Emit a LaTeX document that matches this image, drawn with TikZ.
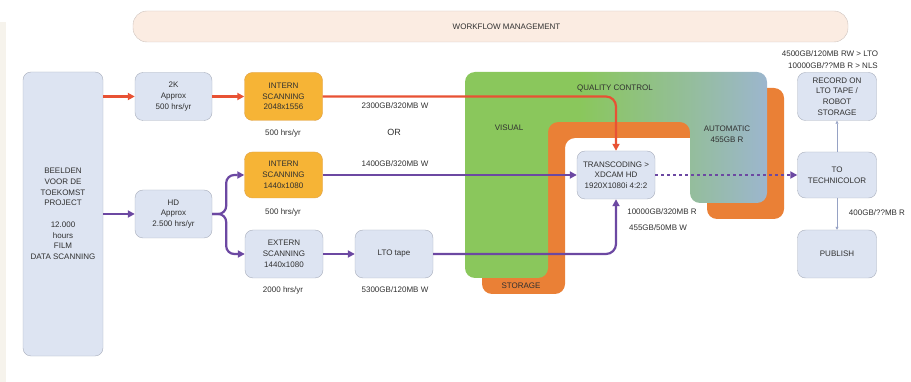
\documentclass[tikz,border=0pt]{standalone}
\usepackage{fontspec}
\setmainfont{Liberation Sans}
\usepackage{xcolor}
\usetikzlibrary{arrows.meta, positioning}
\definecolor{BoxBlue}{RGB}{221,228,242}
\definecolor{BoxEdge}{RGB}{168,174,188}
\definecolor{ScanOrange}{RGB}{246,180,54}
\definecolor{ScanEdge}{RGB}{222,160,70}
\definecolor{RedLine}{RGB}{232,82,52}
\definecolor{PurpleLine}{RGB}{108,72,162}
\definecolor{ThinLine}{RGB}{150,162,196}
\definecolor{QCGreen}{RGB}{138,199,92}
\definecolor{QCBlue}{RGB}{156,182,206}
\definecolor{StOrange}{RGB}{234,128,54}
\definecolor{BarFill}{RGB}{251,236,226}
\definecolor{BarEdge}{RGB}{205,195,190}
\definecolor{Beige}{RGB}{246,243,236}
\definecolor{TextGray}{RGB}{48,48,48}
\pgfdeclarehorizontalshading{qcshade}{100bp}{color(0bp)=(QCGreen); color(44bp)=(QCGreen);
  color(62bp)=(QCGreen!45!QCBlue); color(75bp)=(QCBlue); color(100bp)=(QCBlue)}
\newcommand\txt{\fontsize{8}{10.75}\selectfont}

\begin{document}
\begin{tikzpicture}[x=1pt, y=-1pt,
  box/.style={draw=BoxEdge, fill=BoxBlue, rounded corners=8pt, align=center,
              inner sep=0pt, font=\txt, text=TextGray},
  scan/.style={box, draw=ScanEdge, fill=ScanOrange},
  lbl/.style={font=\txt, text=TextGray, inner sep=0pt},
  qcarea/.style={insert path={(465,278) -- (465,72) -- (767,72) -- (767,203)
              -- (690,203) -- (690,122) -- (548,122) -- (548,278) -- cycle}},
  redarr/.style={-{Triangle[length=7pt,width=7pt]}, RedLine, line width=2.2pt},
  purarr/.style={-{Triangle[length=7pt,width=7pt]}, PurpleLine, line width=2.2pt},
  thinarr/.style={-{Triangle[length=3pt,width=3pt]}, ThinLine, line width=0.6pt},
]
\useasboundingbox (0,0) rectangle (911,382);
\fill[Beige] (0,22) rectangle (6,382);

\node[draw=BarEdge, fill=BarFill, rounded corners=14pt, minimum width=715pt,
      minimum height=31pt] (wfm) at (490.5,26.5) {};
\node[lbl] (wfmlbl) at ([xshift=16pt]wfm.center) {WORKFLOW MANAGEMENT};

\fill[StOrange, rounded corners=10pt, shift={(17,16)}, qcarea];
\shade[shading=qcshade, rounded corners=10pt, qcarea];
\node[lbl] (qc) at (615,88) {QUALITY CONTROL};
\node[lbl] (visual) at (509,128) {VISUAL};
\node[lbl, align=center] (auto) at (727,134.5) {AUTOMATIC\\455GB R};
\node[lbl] (storage) at (521,286) {STORAGE};

\node[box, minimum width=80pt, minimum height=284pt] (src) at (63,214)
  {BEELDEN\\VOOR DE\\TOEKOMST\\PROJECT\\[10.75pt]12.000\\hours\\FILM\\DATA SCANNING};
\node[box, minimum width=77pt, minimum height=48pt] (k2) at (173.5,96.5) {2K\\Approx\\500 hrs/yr};
\node[box, minimum width=77pt, minimum height=48pt] (hd) at (173.5,214) {HD\\Approx\\2.500 hrs/yr};
\node[scan, minimum width=78pt, minimum height=48pt] (int1) at (283.5,96.5) {INTERN\\SCANNING\\2048x1556};
\node[scan, minimum width=78pt, minimum height=46pt] (int2) at (283.5,175) {INTERN\\SCANNING\\1440x1080};
\node[box, minimum width=78pt, minimum height=48pt] (ext) at (284,254) {EXTERN\\SCANNING\\1440x1080};
\node[box, minimum width=78pt, minimum height=48pt] (lto) at (394,254) {LTO tape};
\node[box, minimum width=78pt, minimum height=48pt] (trans) at (616,175) {TRANSCODING >\\XDCAM HD\\1920X1080i 4:2:2};
\node[box, minimum width=79pt, minimum height=48pt] (rec) at (837,96.5) {RECORD ON\\LTO TAPE /\\ROBOT\\STORAGE};
\node[box, minimum width=79pt, minimum height=46pt] (techni) at (837,175) {TO\\TECHNICOLOR};
\node[box, minimum width=79pt, minimum height=48pt] (pub) at (837,254) {PUBLISH};

\node[lbl] (h1) at (283,133) {500 hrs/yr};
\node[lbl] (h2) at (283,212) {500 hrs/yr};
\node[lbl] (h3) at (283,290) {2000 hrs/yr};
\node[lbl] (r2300) at (395,106) {2300GB/320MB W};
\node[lbl, font=\fontsize{9}{11}\selectfont] (or) at (394,132) {OR};
\node[lbl] (r1400) at (395,164) {1400GB/320MB W};
\node[lbl] (r5300) at (395,290) {5300GB/120MB W};
\node[lbl] (r10000) at (662,212) {10000GB/320MB R};
\node[lbl] (r455) at (658,228) {455GB/50MB W};
\node[lbl] (r4500) at (830,54) {4500GB/120MB RW > LTO};
\node[lbl] (rnls) at (833,66) {10000GB/??MB R > NLS};
\node[lbl] (r400) at (877,213) {400GB/??MB R};

\draw[redarr] (src.east |- k2.west) -- (k2.west);
\draw[redarr] (k2) -- (int1);
\draw[redarr, rounded corners=10pt] (int1.east) -| (trans.north);
\draw[purarr] (src.east |- hd.west) -- (hd.west);
\draw[purarr, rounded corners=8pt] (hd.east) -- ++(14,0) |- (int2.west);
\draw[purarr, rounded corners=8pt] (hd.east) -- ++(14,0) |- (ext.west);
\draw[purarr] (int2) -- (trans);
\draw[purarr] (ext) -- (lto);
\draw[purarr, rounded corners=10pt] (lto.east) -| (trans.south);
\draw[purarr, dash pattern=on 3pt off 3pt] (trans) -- (techni);
\draw[thinarr] (techni) -- (rec);
\draw[thinarr] (techni) -- (pub);
\end{tikzpicture}
\end{document}
